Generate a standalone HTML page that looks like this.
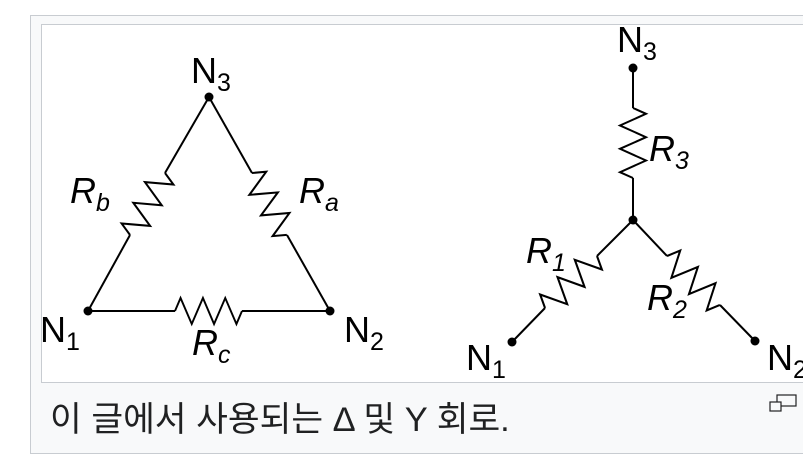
<!DOCTYPE html>
<html><head><meta charset="utf-8"><style>
html,body{margin:0;padding:0;background:#fff;width:803px;height:455px;overflow:hidden}
.outer{position:absolute;left:30px;top:15px;width:800px;height:437px;border:1px solid #c8ccd1;background:#f8f9fa}
.img{position:absolute;left:41px;top:24px;width:800px;height:357px;border:1px solid #c8ccd1;background:#fff}
.cap{position:absolute;left:50px;top:391px;font:34.5px "Liberation Sans","Noto Sans CJK KR",sans-serif;color:#202122;white-space:nowrap}
svg{position:absolute;left:0;top:0}
text{font-family:"Liberation Sans",sans-serif;fill:#000}
</style></head><body>
<div class="outer"></div>
<div class="img"></div>
<div class="cap">이 글에서 사용되는 Δ 및 Y 회로.</div>
<svg width="803" height="455">
<defs><path id="z" d="M0 0 L5.8 -13 L17.5 13 L29.2 -13 L40.8 13 L52.5 -13 L64.2 13 L70 0" fill="none" stroke="#000" stroke-width="2" stroke-linejoin="miter"/></defs>
<g stroke="#000" stroke-width="2" fill="none">
<line x1="209" y1="97" x2="165" y2="173"/><line x1="130" y1="235" x2="88" y2="311"/>
<line x1="209" y1="97" x2="252" y2="173"/><line x1="287" y1="235" x2="330" y2="311"/>
<line x1="88" y1="311" x2="175" y2="311"/><line x1="242" y1="311" x2="330" y2="311"/>
<line x1="633" y1="68" x2="633" y2="108"/><line x1="633" y1="178" x2="633" y2="220"/>
<line x1="633" y1="220" x2="597" y2="256"/><line x1="545" y1="308" x2="512" y2="342"/>
<line x1="633" y1="220" x2="667" y2="256"/><line x1="720" y1="305" x2="755" y2="341"/>
</g>
<use href="#z" transform="translate(165,173) rotate(119.4) scale(1.017,1)"/>
<use href="#z" transform="translate(252,173) rotate(60.6) scale(1.014,1)"/>
<use href="#z" transform="translate(175,311) scale(0.957,1)"/>
<use href="#z" transform="translate(633,108) rotate(90)"/>
<use href="#z" transform="translate(597,256) rotate(135) scale(1.05,1)"/>
<use href="#z" transform="translate(667,256) rotate(42.8) scale(1.03,1)"/>
<g fill="#000"><circle cx="209" cy="97" r="4.5"/><circle cx="88" cy="311" r="4.5"/><circle cx="330" cy="311" r="4.5"/>
<circle cx="633" cy="68" r="4.5"/><circle cx="633" cy="220" r="4.5"/><circle cx="512" cy="342" r="4.5"/><circle cx="755" cy="341" r="4.5"/></g>
<g font-size="36">
<text x="191" y="83">N<tspan font-size="25" dy="8">3</tspan></text>
<text x="40" y="342">N<tspan font-size="25" dy="8">1</tspan></text>
<text x="344" y="342">N<tspan font-size="25" dy="8">2</tspan></text>
<text x="70" y="203" font-style="italic">R<tspan font-size="25" dy="8">b</tspan></text>
<text x="299" y="203" font-style="italic">R<tspan font-size="25" dy="8">a</tspan></text>
<text x="192" y="355" font-style="italic">R<tspan font-size="25" dy="8">c</tspan></text>
<text x="617" y="52">N<tspan font-size="25" dy="8">3</tspan></text>
<text x="649" y="161" font-style="italic">R<tspan font-size="25" dy="8">3</tspan></text>
<text x="526" y="263" font-style="italic">R<tspan font-size="25" dy="8">1</tspan></text>
<text x="647" y="310" font-style="italic">R<tspan font-size="25" dy="8">2</tspan></text>
<text x="466" y="370">N<tspan font-size="25" dy="8">1</tspan></text>
<text x="767" y="370">N<tspan font-size="25" dy="8">2</tspan></text>
</g>
<g fill="none" stroke="#202122" stroke-width="1.2">
<rect x="777" y="395" width="19" height="11"/><rect x="770" y="402" width="11" height="9" fill="#f8f9fa"/>
</g>
</svg>
</body></html>
